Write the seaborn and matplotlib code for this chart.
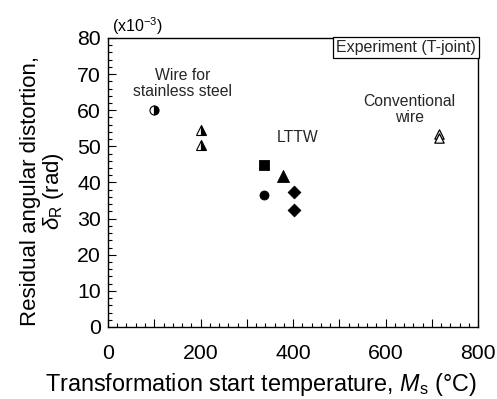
import matplotlib
matplotlib.use("Agg")
import matplotlib.pyplot as plt
import seaborn as sns
import pandas as pd
from matplotlib.ticker import MultipleLocator, FuncFormatter

# Ms (°C) and residual angular distortion (x10^-3 rad)
stainless_circle_ms = [100]
stainless_circle_dist = [60.1]
stainless_tri_ms = [200, 200]
stainless_tri_dist = [54.6, 50.5]

lttw_ms = [338, 378, 338, 403, 403]
lttw_dist = [44.8, 41.7, 36.4, 37.3, 32.4]
lttw_marker = ["s", "^", "o", "D", "D"]

conv_ms = [716, 716]
conv_dist = [53.5, 52.3]

sns.set_theme(style="white")
plt.rcParams["font.family"] = ["Liberation Sans", "DejaVu Sans"]
plt.rcParams["mathtext.fontset"] = "custom"
plt.rcParams["mathtext.rm"] = "Liberation Sans"
plt.rcParams["mathtext.it"] = "Liberation Sans:italic"

fig = plt.figure(figsize=(4.97, 3.99), dpi=100)
ax = fig.add_axes([0.2173, 0.1805, 0.9618 - 0.2173, 0.9048 - 0.1805])

# LTTW points (filled markers)
lttw_df = pd.DataFrame({"ms": lttw_ms, "dist": lttw_dist, "marker": lttw_marker})
sizes = {"s": 60, "^": 75, "o": 42, "D": 42}
for mk, grp in lttw_df.groupby("marker"):
    sns.scatterplot(data=grp, x="ms", y="dist", marker=mk, s=sizes[mk],
                    color="black", edgecolor="black", linewidth=0.6, ax=ax, legend=False)

# Conventional wire (open triangles)
conv_df = pd.DataFrame({"ms": conv_ms, "dist": conv_dist})
sns.scatterplot(data=conv_df, x="ms", y="dist", marker="^", s=45,
                facecolor="white", edgecolor="black", linewidth=0.9, ax=ax, legend=False)

# Wire for stainless steel (half-filled markers: white left, black right)
ax.plot(stainless_circle_ms, stainless_circle_dist, linestyle="none", marker="o",
        ms=6.5, fillstyle="left", markerfacecolor="white",
        markerfacecoloralt="black", markeredgecolor="black", markeredgewidth=0.8)
ax.plot(stainless_tri_ms, stainless_tri_dist, linestyle="none", marker="^",
        ms=7.5, fillstyle="left", markerfacecolor="white",
        markerfacecoloralt="black", markeredgecolor="black", markeredgewidth=0.8)

ax.set_xlim(0, 800)
ax.set_ylim(0, 80)
ax.xaxis.set_major_locator(MultipleLocator(100))
ax.xaxis.set_minor_locator(MultipleLocator(20))
ax.xaxis.set_major_formatter(FuncFormatter(lambda v, p: f"{int(v)}" if int(round(v)) % 200 == 0 else ""))
ax.yaxis.set_major_locator(MultipleLocator(10))
ax.yaxis.set_minor_locator(MultipleLocator(2))

ax.tick_params(which="both", direction="in", top=False, right=False,
               bottom=True, left=True, colors="black", labelsize=15.3, width=0.8)
ax.tick_params(which="major", length=6)
ax.tick_params(which="minor", length=3)
ax.tick_params(axis="x", which="major", pad=12)
ax.tick_params(axis="y", which="major", pad=5)
for s in ax.spines.values():
    s.set_color("black")
    s.set_linewidth(1.0)

ax.set_xlabel(r"Transformation start temperature, $\mathit{M}_{\mathrm{s}}$ (°C)",
              fontsize=16.8, color="black")
ax.xaxis.set_label_coords(0.4135, -0.2)
ax.xaxis.label.set_va("center")
ax.set_ylabel("Residual angular distortion,\n" + r"$\delta_{\mathrm{R}}$ (rad)",
              fontsize=16, color="black", linespacing=1.0)
ax.yaxis.set_label_coords(-0.177, 0.47)
ax.yaxis.label.set_va("center")

fig.text(0.225, 0.935, r"(x10$^{-3}$)", fontsize=11.5, color="black", va="center", ha="left")

ax.text(162, 67.4, "Wire for\nstainless steel", fontsize=11.3, ha="center", va="center",
        linespacing=1.1)
ax.text(410, 52.5, "LTTW", fontsize=11.3, ha="center", va="center")
ax.text(651, 60.1, "Conventional\nwire", fontsize=11.3, ha="center", va="center",
        linespacing=1.1)

ax.text(0.994, 0.992, "Experiment (T-joint)", transform=ax.transAxes, fontsize=11.5,
        ha="right", va="top",
        bbox=dict(boxstyle="square,pad=0.2", facecolor="white", edgecolor="black", linewidth=0.9))

ax.set_facecolor("white")
fig.patch.set_facecolor("white")
fig.savefig("out.png", dpi=100, facecolor="white")
